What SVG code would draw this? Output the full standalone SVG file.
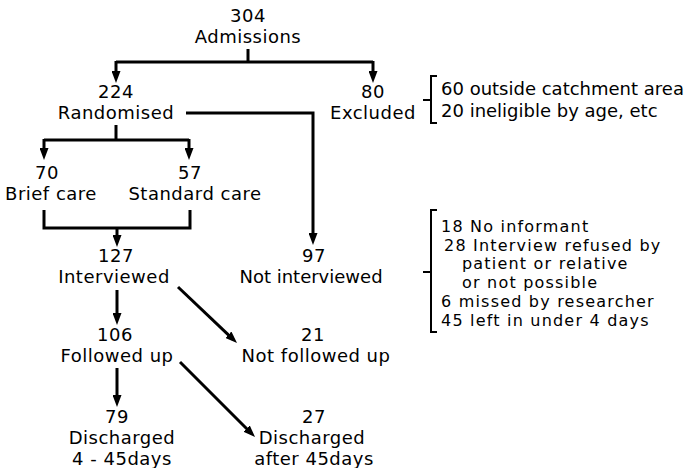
<svg xmlns="http://www.w3.org/2000/svg" width="685" height="468" viewBox="0 0 685 468">
<defs>
<style>
text{font-family:"DejaVu Sans","Liberation Sans",sans-serif;font-size:18px;fill:#000}
.c{text-anchor:middle;letter-spacing:0.5px}
.s{font-size:18px}
.t{font-size:16px;letter-spacing:1.2px}
.l{stroke:#000;stroke-width:3;fill:none}
.b{stroke:#000;stroke-width:2;fill:none}
</style>
<marker id="ah" viewBox="0 0 12 9" refX="7" refY="4.5" markerWidth="12" markerHeight="9" orient="auto" markerUnits="userSpaceOnUse">
<path d="M0,0 L12,4.5 L0,9 z" fill="#000"/>
</marker>
</defs>
<rect width="685" height="468" fill="#fff"/>
<g id="connectors">
<path class="l" d="M248,49 V62"/>
<path class="l" d="M116,62 H373"/>
<path class="l" d="M116,61 V78" marker-end="url(#ah)"/>
<path class="l" d="M373,61 V78" marker-end="url(#ah)"/>
<path class="l" d="M186,113 H313 V240" marker-end="url(#ah)"/>
<path class="l" d="M116,125 V140"/>
<path class="l" d="M44,140 H189"/>
<path class="l" d="M44,139 V155" marker-end="url(#ah)"/>
<path class="l" d="M189,139 V155" marker-end="url(#ah)"/>
<path class="l" d="M44,210 V228 H190 V210"/>
<path class="l" d="M117,228 V242" marker-end="url(#ah)"/>
<path class="l" d="M117,290 V320" marker-end="url(#ah)"/>
<path class="l" d="M178,287 L233.4,339.6" marker-end="url(#ah)"/>
<path class="l" d="M117,368 V402" marker-end="url(#ah)"/>
<path class="l" d="M180,362 L251.5,433.5" marker-end="url(#ah)"/>
</g>
<g id="n304"><text class="c"><tspan x="248" y="22">304</tspan><tspan x="248" y="43">Admissions</tspan></text></g>
<g id="n224"><text class="c"><tspan x="116" y="98">224</tspan><tspan x="116" y="119">Randomised</tspan></text></g>
<g id="n80"><text class="c"><tspan x="373" y="98">80</tspan><tspan x="373" y="119">Excluded</tspan></text></g>
<g id="excl-reasons">
<path class="b" d="M437,76 H431 V123 H437 M423,100 H431"/>
<text class="s" x="441" y="95">60 outside catchment area</text>
<text class="s" x="441" y="117">20 ineligible by age, etc</text>
</g>
<g id="n70"><text class="c"><tspan x="47" y="179">70</tspan><tspan x="51" y="200">Brief care</tspan></text></g>
<g id="n57"><text class="c"><tspan x="190" y="179">57</tspan><tspan x="195" y="200">Standard care</tspan></text></g>
<g id="n127"><text class="c"><tspan x="116" y="262">127</tspan><tspan x="114" y="283">Interviewed</tspan></text></g>
<g id="n97"><text class="c"><tspan x="314" y="262">97</tspan><tspan x="311" y="283" style="letter-spacing:0">Not interviewed</tspan></text></g>
<g id="notint-reasons">
<path class="b" d="M437,210 H431 V332 H437 M423,272 H431"/>
<text class="t" x="441" y="232">18 No informant</text>
<text class="t" x="444" y="250.7">28 Interview refused by</text>
<text class="t" x="462" y="269.4">patient or relative</text>
<text class="t" x="462" y="288.1">or not possible</text>
<text class="t" x="441" y="306.8">6 missed by researcher</text>
<text class="t" x="441" y="325.5">45 left in under 4 days</text>
</g>
<g id="n106"><text class="c"><tspan x="115" y="341">106</tspan><tspan x="117" y="362">Followed up</tspan></text></g>
<g id="n21"><text class="c"><tspan x="313" y="341">21</tspan><tspan x="316" y="362">Not followed up</tspan></text></g>
<g id="n79"><text class="c"><tspan x="117" y="423">79</tspan><tspan x="122" y="444">Discharged</tspan><tspan x="122" y="465">4 - 45days</tspan></text></g>
<g id="n27"><text class="c"><tspan x="314" y="423">27</tspan><tspan x="312" y="444">Discharged</tspan><tspan x="314" y="465">after 45days</tspan></text></g>
</svg>
